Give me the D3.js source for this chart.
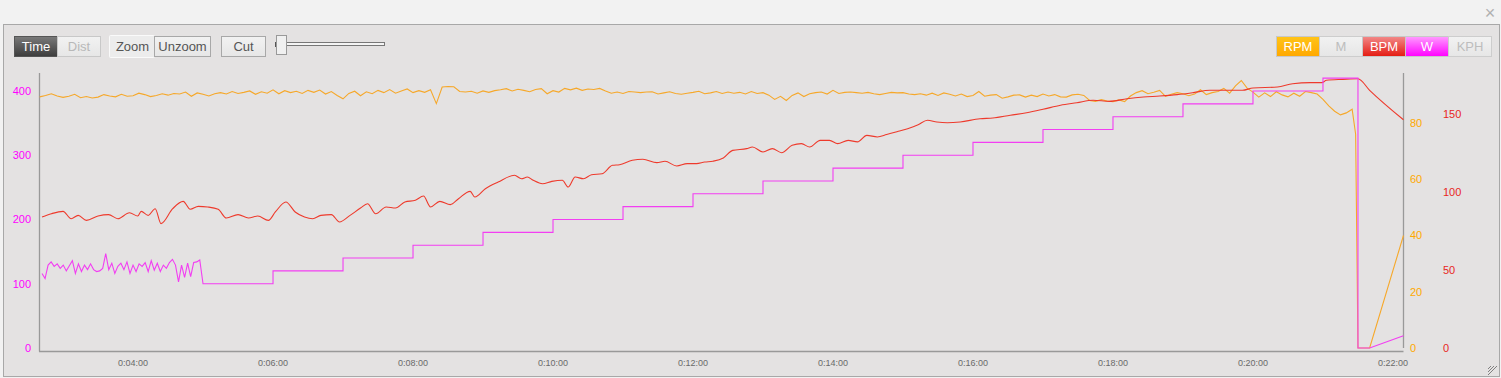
<!DOCTYPE html>
<html>
<head>
<meta charset="utf-8">
<script src="https://cdn.jsdelivr.net/npm/d3@7/dist/d3.min.js"></script>
<style>
  body { margin: 0; background: #f2f2f2; }
  svg { display: block; font-family: "Liberation Sans", Arial, sans-serif; }
</style>
</head>
<body>
<svg id="chart" width="1501" height="378"></svg>
<script>
// ----- data (time in seconds) -----
const xTicks = [240, 360, 480, 600, 720, 840, 960, 1080, 1200, 1320];
const wTicks = [0, 100, 200, 300, 400];
const rpmTicks = [0, 20, 40, 60, 80];
const bpmTicks = [0, 50, 100, 150];

// heart rate, sampled irregularly
const bpmTime = [162,170,180,187,193,200,210,219,227,237,244,247,253,259,264,274,283,289,296,304,
  313,320,330,339,347,356,362,371,379,387,394,401,410,417,426,435,441,448,457,465,
  473,482,489,495,503,512,519,529,533,542,553,567,573,578,583,591,599,608,613,619,
  626,633,642,651,657,668,677,689,696,706,715,723,730,737,746,754,766,771,780,788,
  796,805,813,820,829,837,844,853,861,869,878,886,896,904,913,921,929,938,949,966,
  977,992,1006,1020,1035,1049,1063,1077,1092,1106,1120,1135,1149,1163,1178,1191,1200,1221,1234,1249,
  1259,1263,1277,1290,1300,1329];
const bpmValue = [84,86.1,87.6,82.9,85,81.8,84.6,85.5,82.9,86.7,84.6,87.6,85,89.3,79.7,89.3,94,88.9,90.8,90.4,
  88.9,83.3,85.5,83.3,84.6,81.8,87.2,93.6,87.2,84,82.9,85,85.5,80.8,85,89.7,92.5,86.1,90.4,89.7,
  93.6,94.7,97.4,90.4,94,91.9,95.7,100.4,96.8,102.1,106.4,110.7,108.5,109.6,107.5,105.3,106.8,107.5,103.2,109.6,
  108.5,111.1,111.7,117.1,117.5,120.3,121,118.8,119.7,116.7,118.2,118.2,119.2,119.7,121.8,126.7,127.8,128.8,125.6,127.8,
  125.2,129.9,131,128.8,133.1,133.1,131,133.1,132.1,136.3,135.3,136.8,138.9,140.6,143.1,146,144.9,144.4,144.9,147,
  147.4,149.2,150.8,153,155.6,157.2,158.8,158.1,159.8,160.9,161.5,162.4,163.7,165.2,165.2,165.2,166.7,167.3,169.4,170.1,
  170.1,171.6,172.2,172.6,165.2,146.3];

// cadence, one value every 5 s from 160 s
const rpmStart = 160, rpmStep = 5;
const rpmValue = [
  89.3,89.8,90.4,89.6,89.1,89.5,90.2,89.0,89.4,88.9,89.2,90.1,
  89.6,89.3,90.2,89.5,89.7,90.6,90.1,89.4,89.8,90.4,89.9,90.5,
  90.3,91.0,89.5,90.7,90.2,89.6,90.4,90.8,90.3,91.2,90.5,90.9,
  91.4,90.2,91.1,90.6,91.8,90.4,91.5,90.8,91.3,90.5,91.6,90.9,
  91.7,90.3,91.2,89.8,88.6,90.5,91.3,89.7,91.1,90.4,91.6,90.8,
  91.9,90.6,91.4,92.1,90.8,91.5,90.9,91.8,86.9,92.8,93.0,92.9,
  91.2,91.0,91.3,90.6,91.4,90.9,91.5,91.8,92.2,91.4,92.0,91.6,
  91.1,91.9,92.2,90.4,91.5,91.0,92.3,91.8,92.4,91.6,92.1,91.9,
  92.3,91.4,90.6,91.0,90.5,91.2,91.0,90.8,91.0,91.1,90.3,90.7,
  91.1,90.5,90.2,90.6,90.9,91.3,90.4,90.7,91.2,90.5,91.0,90.6,
  90.9,90.3,91.2,90.5,90.8,89.9,88.4,89.5,88.0,89.8,90.7,89.4,
  90.4,90.8,91.0,90.3,91.6,90.5,90.9,91.0,90.8,90.6,90.9,90.4,
  90.1,90.5,90.9,90.7,90.8,90.3,90.1,90.4,89.9,90.6,89.8,90.7,
  90.2,89.6,90.3,89.4,89.8,91.2,89.5,89.9,90.1,88.8,89.3,89.9,
  90.0,89.2,89.9,89.4,90.3,89.6,90.1,89.3,89.2,90.0,90.2,89.8,
  88.0,87.7,88.3,87.8,87.6,88.2,87.6,89.6,90.8,91.5,90.4,90.9,
  91.6,89.5,90.2,90.8,90.4,89.7,90.3,91.8,90.1,90.8,91.2,92.3,
  90.6,93.2,95.1,92.4,91.0,89.2,90.7,89.4,91.1,90.0,89.3,90.6,
  89.5,91.2,90.8,90.3,88.4,86.1,84.2,82.9,83.6,84.9];
const rpmTailTime = [1288, 1290, 1300, 1329];
const rpmTailValue = [76, 0, 0, 40];

// power: noisy warm-up every 2.6 s from 162 s, then 1-minute steps
const wNoisyStart = 162, wNoisyStep = 2.6;
const wNoisy = [116,108,129,134,127,131,124,129,120,128,136,116,131,119,129,122,131,122,119,120,
  124,147,122,132,116,127,132,122,134,116,129,119,131,127,133,119,136,121,132,119,
  129,124,133,138,129,103,129,110,132,111,133,134,137];
const wStepStart = [300,360,420,480,540,600,660,720,780,840,900,960,1020,1080,1140,1200,1260];
const wStepLevel = [100,120,140,160,180,200,220,240,260,280,300,320,340,360,380,400,420];
const wStepEnd = 1290;
const wTailTime = [1290, 1300, 1329];
const wTailValue = [0, 0, 19];

const leftButtons = [["Time", "dark"], ["Dist", "off"]];
const zoomButtons = ["Zoom", "Unzoom"];
const seriesButtons = [["RPM", "gRpm"], ["M", null], ["BPM", "gBpm"], ["W", "gW"], ["KPH", null]];

const colRpm = "#f6a82a", colBpm = "#ee3a2c", colW = "#f23ef2";

// ----- build series points -----
const bpmPts = bpmTime.map((t, i) => [t, bpmValue[i]]);
const rpmPts = rpmValue.map((v, i) => [rpmStart + i * rpmStep, v])
  .concat(rpmTailTime.map((t, i) => [t, rpmTailValue[i]]));
let wPts = wNoisy.map((v, i) => [wNoisyStart + i * wNoisyStep, v]);
wStepStart.forEach((s, i) => {
  const e = i < wStepStart.length - 1 ? wStepStart[i + 1] : wStepEnd;
  wPts.push([s, wStepLevel[i]], [e, wStepLevel[i]]);
});
wPts = wPts.concat(wTailTime.map((t, i) => [t, wTailValue[i]]));

const svg = d3.select("#chart");

// ----- frame -----
svg.append("rect").attr("x", 0).attr("y", 0).attr("width", 1501).attr("height", 25).attr("fill", "#f2f2f2");
svg.append("rect").attr("x", 3.5).attr("y", 24.5).attr("width", 1496).attr("height", 352)
  .attr("fill", "#e4e2e2").attr("stroke", "#a8a8a8");
svg.append("text").attr("x", 1490).attr("y", 19).attr("text-anchor", "middle")
  .attr("font-size", 18).attr("fill", "#b0b0b0").text("\u00d7");
[0, 3, 6].forEach(o => svg.append("line")
  .attr("x1", 1497 - o).attr("y1", 366).attr("x2", 1488).attr("y2", 375 - o)
  .attr("stroke", "#666").attr("stroke-width", 0.8));

// gradients for buttons
const defs = svg.append("defs");
function grad(id, c1, c2) {
  const g = defs.append("linearGradient").attr("id", id).attr("x1", 0).attr("y1", 0).attr("x2", 0).attr("y2", 1);
  g.append("stop").attr("offset", "0%").attr("stop-color", c1);
  g.append("stop").attr("offset", "100%").attr("stop-color", c2);
}
grad("gDark", "#7a7a7a", "#3c3c3c");
grad("gOff", "#f2f2f2", "#e6e6e6");
grad("gRpm", "#ffc418", "#ffa800");
grad("gBpm", "#f28a8a", "#e41a10");
grad("gW", "#ff9cff", "#ff00ff");

function button(x, w, label, fill, textCol, stroke) {
  svg.append("rect").attr("x", x + 0.5).attr("y", 36.5).attr("width", w).attr("height", 20)
    .attr("fill", fill).attr("stroke", stroke);
  svg.append("text").attr("x", x + w / 2 + 0.5).attr("y", 51).attr("text-anchor", "middle")
    .attr("font-size", 13).attr("fill", textCol).text(label);
}
button(14, 43, leftButtons[0][0], "url(#gDark)", "#fff", "#555");
button(57, 43, leftButtons[1][0], "url(#gOff)", "#b8b8b8", "#c8c8c8");
svg.append("rect").attr("x", 109).attr("y", 35).attr("width", 46).attr("height", 23).attr("rx", 2).attr("fill", "#fafafa");
button(110, 44, zoomButtons[0], "#ececec", "#555", "#ececec");
button(154, 56, zoomButtons[1], "url(#gOff)", "#555", "#a8a8a8");
button(221, 44, "Cut", "url(#gOff)", "#555", "#a8a8a8");
// slider
svg.append("rect").attr("x", 286.5).attr("y", 42.5).attr("width", 98).attr("height", 3)
  .attr("fill", "#f4f4f4").attr("stroke", "#777");
svg.append("line").attr("x1", 275.5).attr("x2", 275.5).attr("y1", 42).attr("y2", 47).attr("stroke", "#555");
svg.append("rect").attr("x", 276.5).attr("y", 35.5).attr("width", 10).attr("height", 19)
  .attr("fill", "#f0f0f0").attr("stroke", "#999");

seriesButtons.forEach((b, i) => {
  button(1276 + i * 43, 43, b[0], b[1] ? `url(#${b[1]})` : "url(#gOff)",
    b[1] ? "#fff" : "#bdbdbd", b[1] ? "#c8c8c8" : "#cdcdcd");
});

// ----- scales -----
const x = d3.scaleLinear().domain([159.4, 1328.6]).range([39, 1403]);
const yW = d3.scaleLinear().domain([0, 400]).range([348, 91]);
const yRpm = d3.scaleLinear().domain([0, 80]).range([348, 123]);
const yBpm = d3.scaleLinear().domain([0, 150]).range([348, 114]);

// axes lines
svg.append("line").attr("x1", 39.5).attr("x2", 39.5).attr("y1", 73).attr("y2", 351.5).attr("stroke", "#999").attr("stroke-width", 1.3);
svg.append("line").attr("x1", 39).attr("x2", 1403.5).attr("y1", 351.5).attr("y2", 351.5).attr("stroke", "#999").attr("stroke-width", 1.3);
svg.append("line").attr("x1", 1403.5).attr("x2", 1403.5).attr("y1", 73).attr("y2", 348).attr("stroke", "#999").attr("stroke-width", 1.3);

const fmt = s => `0:${String(Math.floor(s / 60)).padStart(2, "0")}:00`;
svg.append("g").selectAll("text").data(xTicks).join("text")
  .attr("x", d => x(d)).attr("y", 366).attr("text-anchor", "middle")
  .attr("font-size", 9).attr("fill", "#6a6a6a").text(fmt);

svg.append("g").selectAll("text").data(wTicks).join("text")
  .attr("x", 31).attr("y", d => yW(d)).attr("dy", "0.35em").attr("text-anchor", "end")
  .attr("font-size", 11).attr("fill", "#f0f").text(d => d);
svg.append("g").selectAll("text").data(rpmTicks).join("text")
  .attr("x", 1410).attr("y", d => yRpm(d)).attr("dy", "0.35em")
  .attr("font-size", 11).attr("fill", "#ffa800").text(d => d);
svg.append("g").selectAll("text").data(bpmTicks).join("text")
  .attr("x", 1443).attr("y", d => yBpm(d)).attr("dy", "0.35em")
  .attr("font-size", 11).attr("fill", "#e8261e").text(d => d);

// ----- series -----
const lineRpm = d3.line().x(d => x(d[0])).y(d => yRpm(d[1]));
const lineBpm = d3.line().x(d => x(d[0])).y(d => yBpm(d[1])).curve(d3.curveMonotoneX);
const lineW = d3.line().x(d => x(d[0])).y(d => yW(d[1]));

svg.append("path").datum(rpmPts).attr("d", lineRpm).attr("fill", "none").attr("stroke", colRpm).attr("stroke-width", 1.1);
svg.append("path").datum(bpmPts).attr("d", lineBpm).attr("fill", "none").attr("stroke", colBpm).attr("stroke-width", 1.1);
svg.append("path").datum(wPts).attr("d", lineW).attr("fill", "none").attr("stroke", colW).attr("stroke-width", 1.1);
</script>
</body>
</html>
